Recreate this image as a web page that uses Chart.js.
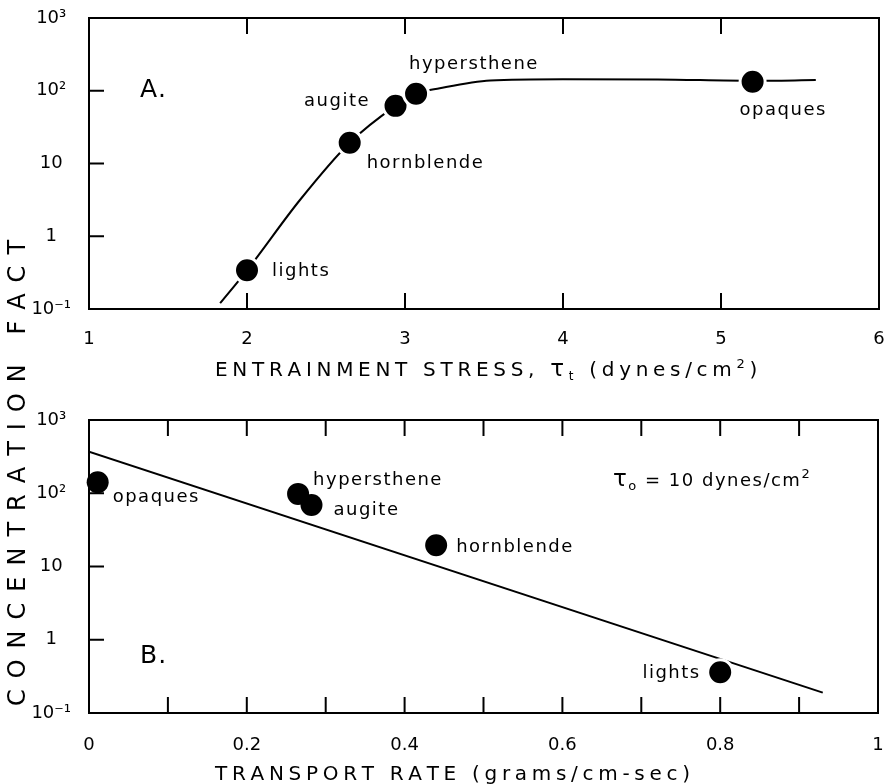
<!DOCTYPE html>
<html>
<head>
<meta charset="utf-8">
<script src="https://cdn.jsdelivr.net/npm/chart.js@4/dist/chart.umd.min.js"></script>
<style>
  html, body { margin: 0; padding: 0; background: #fff; }
  #wrap { position: relative; width: 888px; height: 784px; }
  #wrap canvas { position: absolute; left: 0; top: 0; }
</style>
</head>
<body>
<div id="wrap">
  <canvas id="chartA" width="888" height="784"></canvas>
  <canvas id="chartB" width="888" height="784"></canvas>
</div>
<script>
// ---- data ----
const minerals = ['lights', 'hornblende', 'augite', 'hypersthene', 'opaques'];

// A: concentration factor vs entrainment stress
const stressA = [2.00, 2.65, 2.94, 3.07, 5.20];
const concA   = [0.34, 19.3, 62, 91, 133];
const curveStressA = [1.83, 2.00, 2.335, 2.65, 2.94, 3.07, 3.22, 3.54, 4.00, 4.60, 5.20, 5.60];
const curveConcA   = [0.12, 0.34, 3.15, 19.3, 62, 91, 108, 138, 144, 143, 137, 140];

// B: concentration factor vs transport rate
const rateB = [0.800, 0.440, 0.282, 0.265, 0.011];
const concB = [0.36, 19.5, 69, 98, 141];
const fitRateB = [0, 0.93];
const fitConcB = [370, 0.19];

// axes
const yTicks = [0.1, 1, 10, 100, 1000];
const yTickLabels = ['10\u207B\u00B9', '1', '10', '10\u00B2', '10\u00B3'];
const xTicksA = [1, 2, 3, 4, 5, 6];
const xTickLabelsA = ['1', '2', '3', '4', '5', '6'];
const xTicksB = [0, 0.1, 0.2, 0.3, 0.4, 0.5, 0.6, 0.7, 0.8, 0.9, 1];
const xTickLabelsB = ['0', '', '0.2', '', '0.4', '', '0.6', '', '0.8', '', '1'];

// ---- styling ----
const FONT = '"DejaVu Sans", sans-serif';
const INK = '#000';

// draws text runs character by character with extra tracking
function drawSpaced(ctx, segs, x, y, spacing, align) {
  const chars = [];
  let w = 0;
  segs.forEach(s => {
    ctx.font = `${s.weight || 'normal'} ${s.size}px ${FONT}`;
    for (const ch of s.text) {
      const cw = ctx.measureText(ch).width;
      chars.push({ ch, font: ctx.font, dy: s.dy || 0, cw });
      w += cw + spacing;
    }
  });
  w -= spacing;
  let cx = align === 'center' ? x - w / 2 : align === 'right' ? x - w : x;
  ctx.textAlign = 'left';
  ctx.textBaseline = 'alphabetic';
  chars.forEach(c => {
    ctx.font = c.font;
    ctx.fillText(c.ch, cx, y + c.dy);
    cx += c.cw + spacing;
  });
}

// frame, inward ticks, titles and point labels
function makeDecor(cfg) {
  return {
    id: 'decor',
    beforeDatasetsDraw(chart) {
      const { ctx, chartArea: a, scales: { x, y } } = chart;
      ctx.save();
      ctx.strokeStyle = INK;
      ctx.lineWidth = 2;
      ctx.strokeRect(a.left, a.top, a.right - a.left, a.bottom - a.top);
      ctx.beginPath();
      cfg.xInner.forEach(v => {
        const px = x.getPixelForValue(v);
        ctx.moveTo(px, a.bottom); ctx.lineTo(px, a.bottom - 16);
        ctx.moveTo(px, a.top); ctx.lineTo(px, a.top + 16);
      });
      cfg.yInner.forEach(v => {
        const py = y.getPixelForValue(v);
        ctx.moveTo(a.left, py); ctx.lineTo(a.left + 15, py);
      });
      ctx.stroke();
      ctx.restore();
    },
    afterDatasetsDraw(chart) {
      const { ctx, chartArea: a } = chart;
      ctx.save();
      ctx.fillStyle = INK;
      const pts = chart.getDatasetMeta(0).data;
      minerals.forEach((name, i) => {
        const off = cfg.labelOffsets[name];
        drawSpaced(ctx, [{ text: name, size: 18 }], pts[i].x + off[0], pts[i].y + off[1], 1.5, off[2] || 'left');
      });
      // panel letter
      drawSpaced(ctx, [{ text: cfg.panel, size: 25 }], a.left + 51, a.top + cfg.panelDy, 1, 'left');
      // x-axis title
      drawSpaced(ctx, cfg.xTitle, a.left + cfg.xTitleDx, a.bottom + cfg.xTitleDy, 4.7, 'left');
      if (cfg.extra) cfg.extra(ctx, a);
      ctx.restore();
    }
  };
}

// invisible tick marks give the label offset without widening the layout
function yAxis() {
  return {
    type: 'logarithmic', min: 0.1, max: 1000,
    afterBuildTicks: s => { s.ticks = yTicks.map(v => ({ value: v })); },
    afterFit: s => { s.width = 89; },
    grid: { display: true, drawOnChartArea: false, drawTicks: true, tickLength: 18, color: 'rgba(0,0,0,0)' },
    border: { display: false },
    ticks: {
      autoSkip: false, padding: 0, crossAlign: 'center', color: INK,
      font: { family: FONT, size: 18 },
      callback: (v, i) => yTickLabels[i]
    }
  };
}

function xAxis(min, max, ticks, labels, pad) {
  return {
    type: 'linear', min, max,
    afterBuildTicks: s => { s.ticks = ticks.map(v => ({ value: v })); },
    afterFit: s => { s.height = 40; },
    grid: { display: true, drawOnChartArea: false, drawTicks: true, tickLength: pad, color: 'rgba(0,0,0,0)' },
    border: { display: false },
    ticks: {
      autoSkip: false, maxRotation: 0, padding: 0, color: INK,
      font: { family: FONT, size: 18 },
      callback: (v, i) => labels[i]
    }
  };
}

function pointsDataset(xs, ys, borders, radii) {
  return {
    data: xs.map((v, i) => ({ x: v, y: ys[i] })),
    showLine: false,
    pointRadius: radii, pointHoverRadius: radii,
    pointBackgroundColor: INK,
    pointBorderColor: '#fff',
    pointBorderWidth: borders,
    clip: false
  };
}

function lineDataset(xs, ys, smooth) {
  return {
    data: xs.map((v, i) => ({ x: v, y: ys[i] })),
    showLine: true, borderColor: INK, borderWidth: 2,
    pointRadius: 0, fill: false,
    cubicInterpolationMode: smooth ? 'monotone' : 'default',
    tension: smooth ? 0.4 : 0
  };
}

const common = {
  responsive: false, animation: false, events: [],
  plugins: { legend: { display: false }, tooltip: { enabled: false } }
};

// ---- chart A ----
new Chart(document.getElementById('chartA'), {
  type: 'scatter',
  data: {
    datasets: [
      pointsDataset(stressA, concA, 3, 12.5),
      lineDataset(curveStressA, curveConcA, true)
    ]
  },
  options: {
    ...common,
    layout: { autoPadding: false, padding: { left: 0, top: 18, right: 9, bottom: 435 } },
    scales: { x: xAxis(1, 6, xTicksA, xTickLabelsA, 20), y: yAxis() }
  },
  plugins: [makeDecor({
    xInner: [2, 3, 4, 5], yInner: [1, 10, 100],
    panel: 'A.', panelDy: 79,
    labelOffsets: {
      lights: [25, 6], hornblende: [17, 25], augite: [-27, 0, 'right'],
      hypersthene: [-7, -25], opaques: [-13, 33]
    },
    xTitle: [
      { text: 'ENTRAINMENT STRESS, ', size: 20 },
      { text: '\u03C4', size: 23 },
      { text: 't', size: 12, dy: 4 },
      { text: ' (dynes/cm', size: 20 },
      { text: '2', size: 13, dy: -8 },
      { text: ')', size: 20 }
    ],
    xTitleDx: 126, xTitleDy: 67
  })]
});

// ---- chart B ----
new Chart(document.getElementById('chartB'), {
  type: 'scatter',
  data: {
    datasets: [
      pointsDataset(rateB, concB, [3, 3, 0, 0, 0], [12.5, 12.5, 11, 11, 11]),
      lineDataset(fitRateB, fitConcB, false)
    ]
  },
  options: {
    ...common,
    layout: { autoPadding: false, padding: { left: 0, top: 420, right: 10, bottom: 31 } },
    scales: { x: xAxis(0, 1, xTicksB, xTickLabelsB, 22), y: yAxis() }
  },
  plugins: [makeDecor({
    xInner: [0.1, 0.2, 0.3, 0.4, 0.5, 0.6, 0.7, 0.8, 0.9], yInner: [1, 10, 100],
    panel: 'B.', panelDy: 243,
    labelOffsets: {
      lights: [-21, 6, 'right'], hornblende: [20, 7], augite: [22, 10],
      hypersthene: [15, -9], opaques: [15, 20]
    },
    xTitle: [
      { text: 'TRANSPORT RATE (grams/cm-sec)', size: 20 }
    ],
    xTitleDx: 126, xTitleDy: 67,
    extra(ctx, a) {
      drawSpaced(ctx, [
        { text: '\u03C4', size: 23 },
        { text: 'o', size: 13, dy: 4 },
        { text: ' = 10 dynes/cm', size: 18 },
        { text: '2', size: 13, dy: -8 }
      ], a.left + 524, a.top + 66, 1.5, 'left');
      // shared vertical axis title
      ctx.save();
      ctx.translate(25, 473);
      ctx.rotate(-Math.PI / 2);
      drawSpaced(ctx, [{ text: 'CONCENTRATION FACT', size: 24 }], 0, 0, 11, 'center');
      ctx.restore();
    }
  })]
});
</script>
</body>
</html>
